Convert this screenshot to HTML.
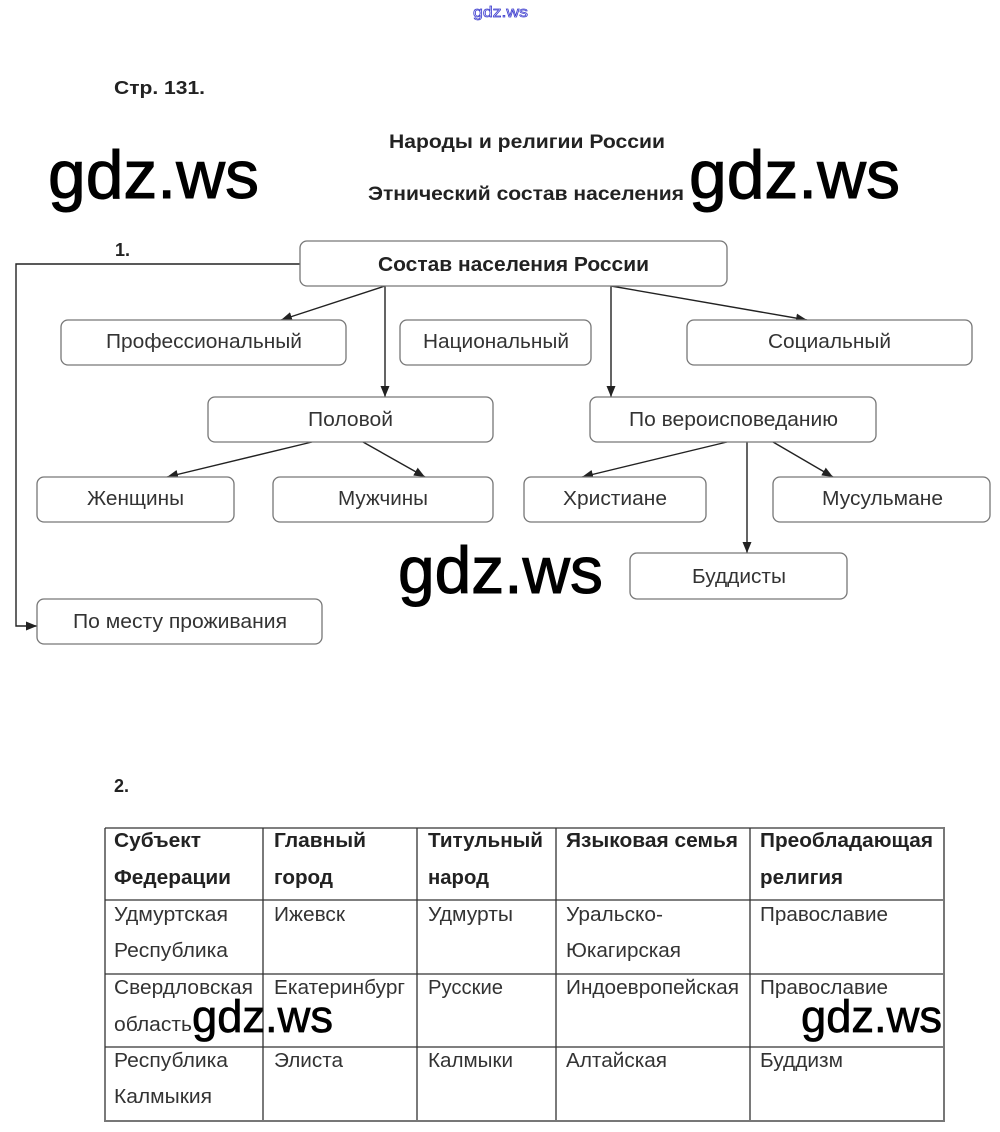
<!DOCTYPE html>
<html><head><meta charset="utf-8"><style>
html,body{margin:0;padding:0;background:#fff;}
svg{display:block;}
text{font-family:"Liberation Sans",Arial,sans-serif;}
</style></head><body>
<svg width="1000" height="1132" viewBox="0 0 1000 1132" xmlns="http://www.w3.org/2000/svg">
<defs>
<marker id="a" markerUnits="userSpaceOnUse" markerWidth="12" markerHeight="10" refX="11" refY="4.5" orient="auto">
<path d="M0,0 L11,4.5 L0,9 z" fill="#222"/>
</marker>
</defs>
<rect width="1000" height="1132" fill="#fff"/>

<!-- top small watermark -->
<text x="473" y="17" font-size="15" fill="#e8e8ff" stroke="#3a3acc" stroke-width="0.7" textLength="55" lengthAdjust="spacingAndGlyphs">gdz.ws</text>

<!-- headings -->
<text x="114" y="94" font-size="18" font-weight="bold" fill="#222" textLength="91" lengthAdjust="spacingAndGlyphs">Стр. 131.</text>
<text x="389" y="148" font-size="19" font-weight="bold" fill="#222" textLength="276" lengthAdjust="spacingAndGlyphs">Народы и религии России</text>
<text x="368" y="200" font-size="19" font-weight="bold" fill="#222" textLength="316" lengthAdjust="spacingAndGlyphs">Этнический состав населения</text>
<text x="115" y="256" font-size="18" font-weight="bold" fill="#222">1.</text>
<text x="114" y="792" font-size="18" font-weight="bold" fill="#222">2.</text>

<!-- connectors -->
<g stroke="#222" stroke-width="1.4" fill="none">
<path d="M385,286 L281,320" marker-end="url(#a)"/>
<path d="M385,286 L385,397" marker-end="url(#a)"/>
<path d="M611,286 L611,397" marker-end="url(#a)"/>
<path d="M611,286 L807,320" marker-end="url(#a)"/>
<path d="M312,442 L167,477" marker-end="url(#a)"/>
<path d="M363,442 L425,477" marker-end="url(#a)"/>
<path d="M727,442 L582,477" marker-end="url(#a)"/>
<path d="M773,442 L833,477" marker-end="url(#a)"/>
<path d="M747,442 L747,553" marker-end="url(#a)"/>
<path d="M300,264 L16,264 L16,626 L37,626" marker-end="url(#a)"/>
</g>

<!-- boxes -->
<g fill="#fff" stroke="#777" stroke-width="1.3">
<rect x="300" y="241" width="427" height="45" rx="7"/>
<rect x="61" y="320" width="285" height="45" rx="7"/>
<rect x="400" y="320" width="191" height="45" rx="7"/>
<rect x="687" y="320" width="285" height="45" rx="7"/>
<rect x="208" y="397" width="285" height="45" rx="7"/>
<rect x="590" y="397" width="286" height="45" rx="7"/>
<rect x="37" y="477" width="197" height="45" rx="7"/>
<rect x="273" y="477" width="220" height="45" rx="7"/>
<rect x="524" y="477" width="182" height="45" rx="7"/>
<rect x="773" y="477" width="217" height="45" rx="7"/>
<rect x="630" y="553" width="217" height="46" rx="7"/>
<rect x="37" y="599" width="285" height="45" rx="7"/>
</g>

<!-- box labels -->
<g font-size="20" fill="#333">
<text x="378" y="271" font-weight="bold" fill="#222" textLength="271" lengthAdjust="spacingAndGlyphs">Состав населения России</text>
<text x="106" y="348" textLength="196" lengthAdjust="spacingAndGlyphs">Профессиональный</text>
<text x="423" y="348" textLength="146" lengthAdjust="spacingAndGlyphs">Национальный</text>
<text x="768" y="348" textLength="123" lengthAdjust="spacingAndGlyphs">Социальный</text>
<text x="308" y="426" textLength="85" lengthAdjust="spacingAndGlyphs">Половой</text>
<text x="629" y="426" textLength="209" lengthAdjust="spacingAndGlyphs">По вероисповеданию</text>
<text x="87" y="505" textLength="97" lengthAdjust="spacingAndGlyphs">Женщины</text>
<text x="338" y="505" textLength="90" lengthAdjust="spacingAndGlyphs">Мужчины</text>
<text x="563" y="505" textLength="104" lengthAdjust="spacingAndGlyphs">Христиане</text>
<text x="822" y="505" textLength="121" lengthAdjust="spacingAndGlyphs">Мусульмане</text>
<text x="692" y="583" textLength="94" lengthAdjust="spacingAndGlyphs">Буддисты</text>
<text x="73" y="628" textLength="214" lengthAdjust="spacingAndGlyphs">По месту проживания</text>
</g>

<!-- table -->
<g stroke="#333" stroke-width="1.3">
<line x1="105" y1="828" x2="944" y2="828"/>
<line x1="105" y1="900" x2="944" y2="900"/>
<line x1="105" y1="974" x2="944" y2="974"/>
<line x1="105" y1="1047" x2="944" y2="1047"/>
<line x1="105" y1="828" x2="105" y2="1121"/>
<line x1="263" y1="828" x2="263" y2="1121"/>
<line x1="417" y1="828" x2="417" y2="1121"/>
<line x1="556" y1="828" x2="556" y2="1121"/>
<line x1="750" y1="828" x2="750" y2="1121"/>
</g>
<g stroke="#777" stroke-width="2">
<line x1="104" y1="1121" x2="945" y2="1121"/>
<line x1="944" y1="827" x2="944" y2="1122"/>
</g>

<g font-size="20" font-weight="bold" fill="#222">
<text x="114" y="847" textLength="87" lengthAdjust="spacingAndGlyphs">Субъект</text>
<text x="114" y="884" textLength="117" lengthAdjust="spacingAndGlyphs">Федерации</text>
<text x="274" y="847" textLength="92" lengthAdjust="spacingAndGlyphs">Главный</text>
<text x="274" y="884" textLength="59" lengthAdjust="spacingAndGlyphs">город</text>
<text x="428" y="847" textLength="115" lengthAdjust="spacingAndGlyphs">Титульный</text>
<text x="428" y="884" textLength="61" lengthAdjust="spacingAndGlyphs">народ</text>
<text x="566" y="847" textLength="172" lengthAdjust="spacingAndGlyphs">Языковая семья</text>
<text x="760" y="847" textLength="173" lengthAdjust="spacingAndGlyphs">Преобладающая</text>
<text x="760" y="884" textLength="83" lengthAdjust="spacingAndGlyphs">религия</text>
</g>
<g font-size="20" fill="#333">
<text x="114" y="921" textLength="114" lengthAdjust="spacingAndGlyphs">Удмуртская</text>
<text x="114" y="957" textLength="114" lengthAdjust="spacingAndGlyphs">Республика</text>
<text x="274" y="921" textLength="71" lengthAdjust="spacingAndGlyphs">Ижевск</text>
<text x="428" y="921" textLength="85" lengthAdjust="spacingAndGlyphs">Удмурты</text>
<text x="566" y="921" textLength="97" lengthAdjust="spacingAndGlyphs">Уральско-</text>
<text x="566" y="957" textLength="115" lengthAdjust="spacingAndGlyphs">Юкагирская</text>
<text x="760" y="921" textLength="128" lengthAdjust="spacingAndGlyphs">Православие</text>

<text x="114" y="994" textLength="139" lengthAdjust="spacingAndGlyphs">Свердловская</text>
<text x="114" y="1031" textLength="78" lengthAdjust="spacingAndGlyphs">область</text>
<text x="274" y="994" textLength="131" lengthAdjust="spacingAndGlyphs">Екатеринбург</text>
<text x="428" y="994" textLength="75" lengthAdjust="spacingAndGlyphs">Русские</text>
<text x="566" y="994" textLength="173" lengthAdjust="spacingAndGlyphs">Индоевропейская</text>
<text x="760" y="994" textLength="128" lengthAdjust="spacingAndGlyphs">Православие</text>

<text x="114" y="1067" textLength="114" lengthAdjust="spacingAndGlyphs">Республика</text>
<text x="114" y="1103" textLength="98" lengthAdjust="spacingAndGlyphs">Калмыкия</text>
<text x="274" y="1067" textLength="69" lengthAdjust="spacingAndGlyphs">Элиста</text>
<text x="428" y="1067" textLength="85" lengthAdjust="spacingAndGlyphs">Калмыки</text>
<text x="566" y="1067" textLength="101" lengthAdjust="spacingAndGlyphs">Алтайская</text>
<text x="760" y="1067" textLength="83" lengthAdjust="spacingAndGlyphs">Буддизм</text>
</g>

<!-- big watermarks -->
<g fill="#000" stroke="#000">
<text x="48" y="198" font-size="68" stroke-width="1.0" textLength="211" lengthAdjust="spacingAndGlyphs">gdz.ws</text>
<text x="689" y="198" font-size="68" stroke-width="1.0" textLength="211" lengthAdjust="spacingAndGlyphs">gdz.ws</text>
<text x="398" y="593" font-size="66" stroke-width="1.0" textLength="205" lengthAdjust="spacingAndGlyphs">gdz.ws</text>
<text x="192" y="1032" font-size="45" stroke-width="0.7" textLength="141" lengthAdjust="spacingAndGlyphs">gdz.ws</text>
<text x="801" y="1032" font-size="45" stroke-width="0.7" textLength="141" lengthAdjust="spacingAndGlyphs">gdz.ws</text>
</g>
</svg>
</body></html>
